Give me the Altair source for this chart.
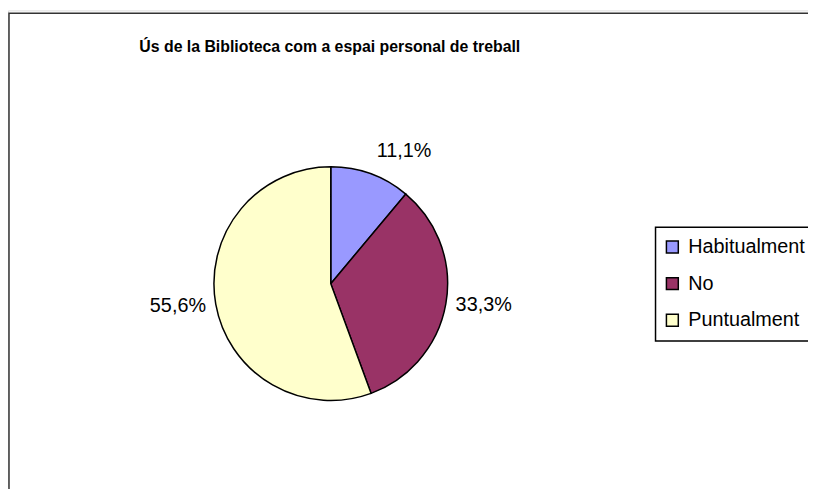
import math
import altair as alt
import pandas as pd

title_text = "Ús de la Biblioteca com a espai personal de treball"
categories = ["Habitualment", "No", "Puntualment"]
percent_values = [11.1, 33.3, 55.6]
colors = ["#9999FF", "#993366", "#FFFFCC"]

total = sum(percent_values)
rows = []
cum = 0.0
for i, (c, v) in enumerate(zip(categories, percent_values)):
    mid = cum + v / 2
    cum += v
    ang = mid / total * 2 * math.pi
    rows.append({
        "cat": c,
        "value": v,
        "order": i,
        "mid": mid,
        "label": f"{v:.1f}%".replace(".", ","),
        "top": abs(math.cos(ang)) > 0.7,
        "right": math.sin(ang) > 0,
    })
df = pd.DataFrame(rows)

FONT = "Liberation Sans"
CX, CY, R = 326, 276, 118

theta_scale = alt.Scale(domain=[0, total], range=[0, 2 * math.pi])
color_scale = alt.Scale(domain=categories, range=colors)

base = alt.Chart(df)

one = alt.Data(values=[{"a": 1}])

frame = alt.Chart(one).mark_rect(fill="white", stroke="#333333", strokeWidth=1.5).encode(
    x=alt.value(1), x2=alt.value(900), y=alt.value(3), y2=alt.value(600)
)

title = alt.Chart(one).mark_text(
    text=title_text, font=FONT, fontSize=16, fontWeight="bold", color="black",
    align="center", baseline="middle"
).encode(x=alt.value(325), y=alt.value(37))

arcs = base.mark_arc(stroke="black", strokeWidth=1.5, radius=R).encode(
    theta=alt.Theta("value:Q", stack=True, scale=theta_scale),
    order=alt.Order("order:Q"),
    color=alt.Color(
        "cat:N", scale=color_scale, sort=categories,
        legend=alt.Legend(
            title=None, orient="none", legendX=661, legendY=229,
            symbolType="square", symbolSize=144, symbolStrokeColor="black",
            symbolStrokeWidth=1.5, symbolOpacity=1,
            labelFont=FONT, labelFontSize=20, labelColor="black",
            labelOffset=6, rowPadding=17, padding=0,
        ),
    ),
    x=alt.value(CX), y=alt.value(CY),
)

labels_top = base.transform_filter("datum.top").mark_text(
    font=FONT, fontSize=20, color="black", align="left", baseline="alphabetic", radius=136
).encode(
    theta=alt.Theta("mid:Q", stack=None, scale=theta_scale),
    text="label:N", x=alt.value(CX), y=alt.value(CY),
)
labels_right = base.transform_filter("!datum.top && datum.right").mark_text(
    font=FONT, fontSize=20, color="black", align="left", baseline="middle", radius=128
).encode(
    theta=alt.Theta("mid:Q", stack=None, scale=theta_scale),
    text="label:N", x=alt.value(CX), y=alt.value(CY),
)
labels_left = base.transform_filter("!datum.top && !datum.right").mark_text(
    font=FONT, fontSize=20, color="black", align="right", baseline="middle", radius=128
).encode(
    theta=alt.Theta("mid:Q", stack=None, scale=theta_scale),
    text="label:N", x=alt.value(CX), y=alt.value(CY),
)

legend_box = alt.Chart(one).mark_rect(fill="white", stroke="black", strokeWidth=1.5).encode(
    x=alt.value(654), x2=alt.value(900), y=alt.value(219), y2=alt.value(334)
)

chart = alt.layer(
    frame, title, legend_box, arcs, labels_top, labels_right, labels_left
).properties(
    width=808, height=481, autosize=alt.AutoSizeParams(type="none"), padding=0
).configure_view(stroke=None).configure(background="white")

chart.save("out.html", embed_options={"renderer": "svg", "actions": False})
